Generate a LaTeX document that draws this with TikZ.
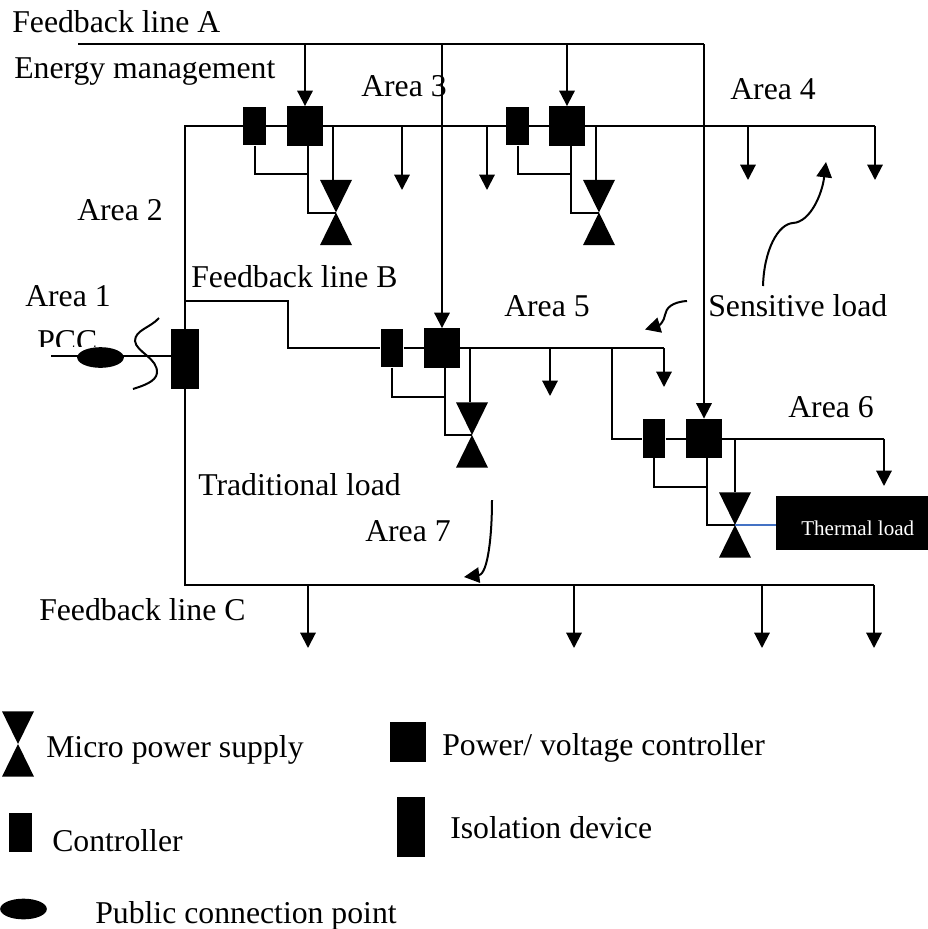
\documentclass[tikz,border=0pt]{standalone}
\usepackage{fontspec}
\setmainfont{Liberation Serif}
\usetikzlibrary{arrows.meta,shapes.geometric}
\tikzset{
  wire/.style={line width=1.5pt},
  load/.style={line width=1.5pt,-{Triangle[width=11.5pt,length=11.5pt]}},
  lbl/.style={anchor=base west,inner sep=0pt,font=\fontsize{23.8}{28}\selectfont},
  ctrlbox/.style={fill=black,inner sep=0pt,minimum width=17pt,minimum height=29pt},
  pwrbox/.style={fill=black,inner sep=0pt,minimum width=27pt,minimum height=29.5pt},
  isobox/.style={fill=black,inner sep=0pt,minimum width=20.5pt,minimum height=45pt},
  pccdot/.style={fill=black,ellipse,inner sep=0pt,minimum width=35pt,minimum height=15.5pt},
  microbox/.style={inner sep=0pt,minimum width=24pt,minimum height=49pt,path picture={
    \fill (path picture bounding box.north west) -- (path picture bounding box.north east)
      -- (path picture bounding box.south west) -- (path picture bounding box.south east) -- cycle;}}
}
\begin{document}
\begin{tikzpicture}[x=0.75pt,y=-0.75pt]
\useasboundingbox (0,0) rectangle (928,929);
\node[lbl] (txtA) at (12,32) {Feedback line A};
\node[lbl] (txtEnergy) at (14,78) {Energy management};
\node[lbl] (txtArea3) at (361,96) {Area 3};
\node[lbl] (txtArea4) at (730,99) {Area 4};
\node[lbl] (txtArea2) at (77,220) {Area 2};
\node[lbl] (txtB) at (191,287) {Feedback line B};
\node[lbl] (txtArea1) at (25,306) {Area 1};
\begin{scope}
\clip (30,320) rectangle (110,346);
\node[lbl] (txtPCC) at (37,351) {PCC};
\end{scope}
\node[lbl] (txtArea5) at (504,316) {Area 5};
\node[lbl] (txtSens) at (708,316) {Sensitive load};
\node[lbl] (txtArea6) at (788,417) {Area 6};
\node[lbl] (txtTrad) at (198,495) {Traditional load};
\node[lbl] (txtArea7) at (365,541) {Area 7};
\node[lbl] (txtC) at (39,620) {Feedback line C};

\node[ctrlbox] (ctrlA) at (254.5,126) {};
\node[pwrbox] (pwrA) at (305,126) {};
\node[microbox] (microA) at (336,212.5) {};
\node[ctrlbox] (ctrlB) at (517.5,126) {};
\node[pwrbox] (pwrB) at (567,126) {};
\node[microbox] (microB) at (599,212.5) {};
\node[ctrlbox] (ctrlC) at (392,348) {};
\node[pwrbox] (pwrC) at (442,348) {};
\node[microbox] (microC) at (472,435) {};
\node[ctrlbox] (ctrlD) at (654,438.5) {};
\node[pwrbox] (pwrD) at (704,438.5) {};
\node[microbox] (microD) at (735,525) {};
\node[isobox] (iso) at (185,359) {};
\node[pccdot] (pcc) at (100.5,357.5) {};
\node[fill=black,inner sep=0pt,minimum width=114pt,minimum height=40.5pt] (thermal) at (852,523) {};
\node[anchor=base west,inner sep=0pt,text=white,font=\fontsize{15.8}{18}\selectfont] (txtThermal) at (801,535) {Thermal load};

\coordinate (lineAL) at (78,44);
\coordinate (lineAR) at (704,44);
\coordinate (busL) at (185,126);
\coordinate (busR) at (875,126);
\coordinate (tapB) at (185,301);
\coordinate (bendB) at (288,348);
\coordinate (endB) at (664,348);
\coordinate (tapD) at (612,348);
\coordinate (bendD) at (612,438.5);
\coordinate (endD) at (884,438.5);
\coordinate (busCL) at (185,585);
\coordinate (busCR) at (874,585);
\coordinate (pccL) at (51,356);
\coordinate (jA) at (308,174);
\coordinate (jB) at (571,174);
\coordinate (jC) at (445,397);
\coordinate (jD) at (707,487);
\coordinate (tapMA) at (333,126);
\coordinate (tapMB) at (596,126);
\coordinate (tapMC) at (470,348);
\coordinate (tapMD) at (735,438.5);

\draw[wire] (lineAL) -- (lineAR);
\draw[load] (pwrA |- lineAL) -- (pwrA.north);
\draw[load] (pwrC |- lineAL) -- (pwrC.north);
\draw[load] (pwrB |- lineAL) -- (pwrB.north);
\draw[load] (lineAR) -- (pwrD.north);

\draw[wire] (iso) -- (busL) -- (ctrlA) -- (pwrA) -- (ctrlB) -- (pwrB) -- (busR);
\draw[wire] (iso) -- (busCL) -- (busCR);
\draw[wire] (tapB) -| (bendB) -- (ctrlC) -- (pwrC) -- (endB);
\draw[wire] (tapD) -- (bendD) -- (ctrlD) -- (pwrD) -- (endD);
\draw[wire] (pccL) -- (iso.west |- pccL);

\draw[wire] (ctrlA.south) |- (jA);
\draw[wire] (jA |- pwrA.south) |- (microA.center);
\draw[wire] (tapMA) -- (tapMA |- microA.north);
\draw[wire] (ctrlB.south) |- (jB);
\draw[wire] (jB |- pwrB.south) |- (microB.center);
\draw[wire] (tapMB) -- (tapMB |- microB.north);
\draw[wire] (ctrlC.south) |- (jC);
\draw[wire] (jC |- pwrC.south) |- (microC.center);
\draw[wire] (tapMC) -- (tapMC |- microC.north);
\draw[wire] (ctrlD.south) |- (jD);
\draw[wire] (jD |- pwrD.south) |- (microD.center);
\draw[wire] (tapMD) -- (microD.north);
\draw[color={rgb,255:red,68;green,114;blue,196},line width=1pt] (microD.center) -- (thermal.west |- microD.center);

\coordinate (loadA) at (402,190);
\coordinate (loadB) at (487,190);
\coordinate (loadC) at (748,180);
\coordinate (loadD) at (875,180);
\coordinate (loadE) at (550,396);
\coordinate (loadF) at (664,387);
\coordinate (loadG) at (884,486);
\coordinate (loadH) at (308,648);
\coordinate (loadI) at (574,648);
\coordinate (loadJ) at (762,648);
\coordinate (loadK) at (874,648);
\draw[load] (loadA |- busL) -- (loadA);
\draw[load] (loadB |- busL) -- (loadB);
\draw[load] (loadC |- busL) -- (loadC);
\draw[load] (busR) -- (loadD);
\draw[load] (loadE |- endB) -- (loadE);
\draw[load] (endB) -- (loadF);
\draw[load] (endD) -- (loadG);
\draw[load] (loadH |- busCL) -- (loadH);
\draw[load] (loadI |- busCL) -- (loadI);
\draw[load] (loadJ |- busCL) -- (loadJ);
\draw[load] (busCR) -- (loadK);

\coordinate (curveSA) at (763,286);
\coordinate (curveSM) at (793,223);
\coordinate (curveSB) at (826,162);
\coordinate (curveMA) at (687,301);
\coordinate (curveMM) at (665,315);
\coordinate (curveMB) at (645,329.5);
\coordinate (curveTA) at (492,500);
\coordinate (curveTB) at (464,577);
\coordinate (waveA) at (159,318);
\coordinate (waveB) at (135,341);
\coordinate (waveC) at (133,389);
\draw[load] (curveSA) .. controls (764,250) and (778,224) .. (curveSM) .. controls (810,222) and (822,195) .. (curveSB);
\draw[load] (curveMA) .. controls (672,302) and (666,308) .. (curveMM) .. controls (664,321) and (660,325) .. (curveMB);
\draw[load] (curveTA) .. controls (492,535) and (488,574) .. (curveTB);
\draw[wire] (waveA) .. controls (150,328) and (135,330) .. (waveB)
  .. controls (136,352) and (158,358) .. (157,373) .. controls (156,382) and (142,386) .. (waveC);

\node[microbox] (keyMicro) at (18,744) {};
\node[lbl] (txtMicro) at (46,757) {Micro power supply};
\node[pwrbox] (keyPwr) at (408,742) {};
\node[lbl] (txtPwr) at (442,755) {Power/ voltage controller};
\node[ctrlbox] (keyCtrl) at (20.5,832.5) {};
\node[lbl] (txtCtrl) at (52,851) {Controller};
\node[isobox] (keyIso) at (411,827) {};
\node[lbl] (txtIso) at (450,838) {Isolation device};
\node[pccdot] (keyPcc) at (23.5,909) {};
\node[lbl] (txtPcc) at (95,923) {Public connection point};
\end{tikzpicture}
\end{document}
